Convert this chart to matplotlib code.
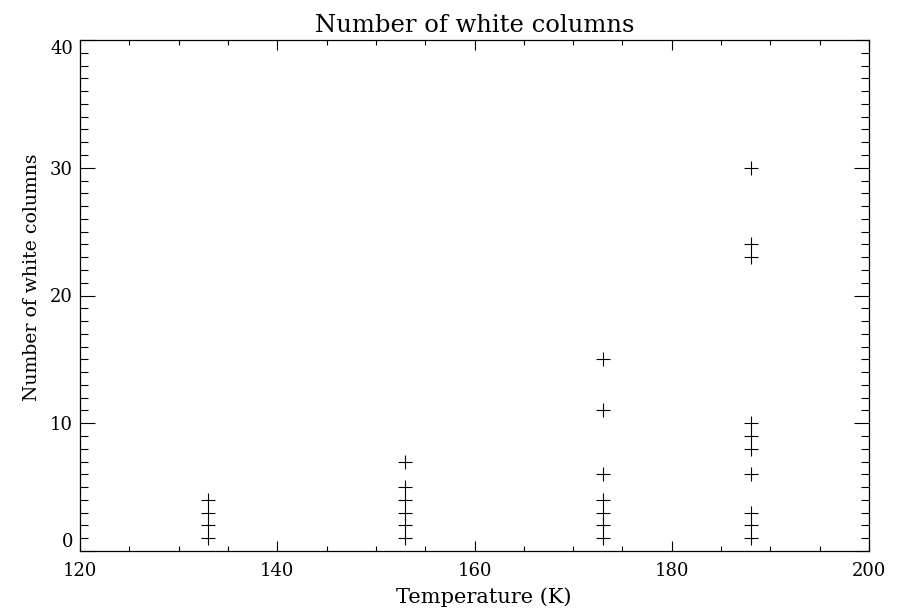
import matplotlib
matplotlib.use("Agg")
import matplotlib.pyplot as plt
from matplotlib.ticker import MultipleLocator

temp_133 = [133, 133, 133, 133]
cols_133 = [1, 2, 3, 4]
temp_153 = [153] * 6
cols_153 = [1, 2, 3, 4, 5, 7]
temp_173 = [173] * 7
cols_173 = [1, 2, 3, 4, 6, 11, 15]
temp_188 = [188] * 10
cols_188 = [1, 2, 3, 6, 8, 9, 10, 23, 24, 30]

x_ticks = [120, 140, 160, 180, 200]
y_ticks = [0, 10, 20, 30, 40]

temps = temp_133 + temp_153 + temp_173 + temp_188
cols = cols_133 + cols_153 + cols_173 + cols_188

plt.rcParams['font.family'] = ['DejaVu Serif']

fig = plt.figure(figsize=(8.99, 6.10), dpi=100)
ax = fig.add_axes([80/899, 1-551/610, (869-80)/899, (551-40)/610])

ax.plot(temps, cols, linestyle='none', marker='+', color='black',
        markersize=10, markeredgewidth=0.8)

ax.set_xlim(x_ticks[0], x_ticks[-1])
ax.set_ylim(y_ticks[0], y_ticks[-1])
ax.set_xticks(x_ticks)
ax.set_yticks(y_ticks)
ax.xaxis.set_minor_locator(MultipleLocator(5))
ax.yaxis.set_minor_locator(MultipleLocator(1))

ax.tick_params(axis='both', which='both', direction='in', top=True, right=True,
               width=0.8, labelsize=13)
ax.tick_params(axis='x', which='major', length=7.2, pad=8)
ax.tick_params(axis='x', which='minor', length=3.6)
ax.tick_params(axis='y', which='major', length=10.8, pad=5)
ax.tick_params(axis='y', which='minor', length=5.8)
for s in ax.spines.values():
    s.set_linewidth(0.9)

ylabels = ax.get_yticklabels()
ylabels[0].set_verticalalignment('bottom')
ylabels[-1].set_verticalalignment('top')

ax.set_title('Number of white columns', fontsize=17.5, pad=6)
ax.set_xlabel('Temperature (K)', fontsize=15, labelpad=0)
ax.set_ylabel('Number of white columns', fontsize=13.6, labelpad=6)
ax.xaxis.set_label_coords(0.512, -0.072)
ax.yaxis.set_label_coords(-0.05, 0.536)

fig.savefig('out.png', dpi=100)
